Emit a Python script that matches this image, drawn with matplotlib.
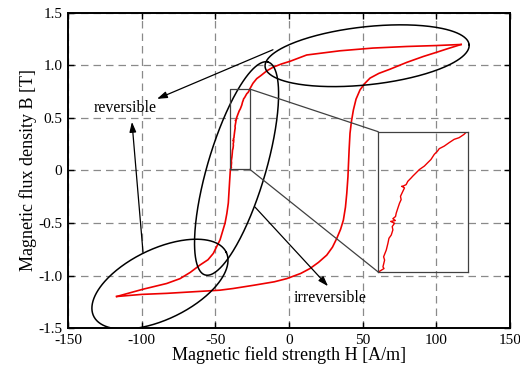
import numpy as np
import matplotlib
matplotlib.use("Agg")
import matplotlib.pyplot as plt

plt.rcParams['font.family'] = ['Liberation Serif', 'DejaVu Serif']
plt.rcParams['axes.unicode_minus'] = False

# ascending branch (from negative tip to positive tip)
h_up = [-117, -100, -83, -65, -47, -38, -24, -10, -1.6, 8, 14.3, 20, 25.6, 29.5, 32.4,
        35, 36.9, 38.3, 39.2, 40, 40.3, 40.8, 41.4, 42.4, 43.7, 45.5, 48.2, 51.5, 55,
        61, 68.6, 80, 91.2, 100, 107, 116.8]
b_up = [-1.2, -1.18, -1.17, -1.155, -1.14, -1.124, -1.093, -1.06, -1.03, -0.98, -0.933,
        -0.875, -0.806, -0.73, -0.647, -0.56, -0.472, -0.35, -0.218, -0.06, 0.04, 0.2,
        0.355, 0.47, 0.577, 0.68, 0.768, 0.83, 0.88, 0.925, 0.965, 1.03, 1.086, 1.125,
        1.157, 1.2]

# descending branch (from positive tip to negative tip), noisy part read from the zoom box
h_down = [116.8, 100, 79.9, 57, 34.6, 12, 0.7, -5, -10.6, -15, -19, -21.9, -24.5,
          -26.75, -27.10, -27.84, -28.58, -29.33, -30.07, -30.82, -31.07, -31.56, -32.06,
          -32.56, -33.05, -33.80, -34.29, -34.79, -35.04, -35.53, -35.78, -36.28, -36.45,
          -36.03, -36.28, -36.63, -36.53, -36.77, -37.02, -37.27, -37.37, -37.77, -37.4,
          -38.1, -37.52, -37.87, -37.77, -38.01, -38.36, -38.51, -38.76, -39.16, -39.01,
          -39.26, -39.1, -39.50, -39.8, -40.3, -41.2, -42.2, -43.4, -46.8, -51.4, -55,
          -60.4, -67, -74, -83, -98.9, -108, -117]
b_down = [1.2, 1.19, 1.181, 1.166, 1.14, 1.10, 1.04, 1.015, 0.985, 0.95, 0.905, 0.875,
          0.83, 0.773, 0.760, 0.742, 0.733, 0.715, 0.696, 0.682, 0.669, 0.651, 0.623,
          0.605, 0.587, 0.568, 0.550, 0.532, 0.522, 0.504, 0.486, 0.477, 0.477, 0.468,
          0.449, 0.422, 0.404, 0.385, 0.358, 0.330, 0.312, 0.300, 0.290, 0.285, 0.275,
          0.257, 0.239, 0.211, 0.193, 0.166, 0.129, 0.092, 0.074, 0.037, 0.028, 0.019,
          0.012, -0.1, -0.31, -0.41, -0.50, -0.66, -0.79, -0.85, -0.90, -0.97, -1.03,
          -1.076, -1.13, -1.165, -1.2]

x_ticks = [-150, -100, -50, 0, 50, 100, 150]
y_ticks = [-1.5, -1.0, -0.5, 0, 0.5, 1.0, 1.5]
y_tick_labels = ['-1.5', '-1.0', '-0.5', '0', '0.5', '1.0', '1.5']

# zoom region and where it is shown
zoom_h = (-40, -26.5)
zoom_b = (0.01, 0.775)
inset_h = (60.4, 121.5)
inset_b = (-0.965, 0.37)

fig = plt.figure(figsize=(5.2, 3.7), dpi=100)
ax = fig.add_axes([0.1308, 0.1135, 0.85, 0.8514])
ax.set_xlim(-150, 150)
ax.set_ylim(-1.5, 1.5)
ax.set_xticks(x_ticks)
ax.set_yticks(y_ticks)
ax.set_yticklabels(y_tick_labels)
ax.tick_params(direction='in', top=True, right=True, length=4, width=1, labelsize=11)
ax.tick_params(axis='x', pad=4)
ax.tick_params(axis='y', pad=4)
for s in ax.spines.values():
    s.set_linewidth(1.4)
ax.grid(True, color='#8a8a8a', linestyle=(0, (6, 4)), linewidth=0.9)
ax.set_xlabel('Magnetic field strength H [A/m]', fontsize=13, labelpad=0)
ax.set_ylabel('Magnetic flux density B [T]', fontsize=13, labelpad=1)

ax.plot(h_up, b_up, color='#ee0000', lw=1.2, zorder=3)
ax.plot(h_down, b_down, color='#ee0000', lw=1.2, zorder=3)

# ellipses are drawn in pixel units around a data centre
sx = 0.85 * 520 / 300.0
sy = 0.8514 * 370 / 3.0


def ellipse(c, a, b, ang):
    t = np.linspace(0, 2 * np.pi, 300)
    r = np.radians(ang)
    x = a * np.cos(t) * np.cos(r) - b * np.sin(t) * np.sin(r)
    y = a * np.cos(t) * np.sin(r) + b * np.sin(t) * np.cos(r)
    ax.plot(c[0] + x / sx, c[1] + y / sy, color='k', lw=1.1, zorder=4)


ellipse((53, 1.093), 102.6, 29, 6.2)
ellipse((-35.6, 0.019), 111, 29, 73.5)
ellipse((-87.6, -1.083), 73.6, 35.2, 25.7)

arrow = dict(arrowstyle='-|>,head_length=0.6,head_width=0.2', color='k', lw=0.9,
             shrinkA=0, shrinkB=0)
ax.annotate('', xy=(-89.6, 0.682), xytext=(-10.9, 1.15), arrowprops=arrow, zorder=5)
ax.annotate('', xy=(-106.6, 0.463), xytext=(-99.1, -0.778), arrowprops=arrow, zorder=5)
ax.annotate('', xy=(26.5, -1.102), xytext=(-23.1, -0.348), arrowprops=arrow, zorder=5)
ax.text(-111.3, 0.596, 'reversible', fontsize=11.5, ha='center', va='center')
ax.text(27.8, -1.217, 'irreversible', fontsize=11.5, ha='center', va='center')

# zoom box and connectors
box_c = '#404040'
ax.plot([zoom_h[0], zoom_h[1], zoom_h[1], zoom_h[0], zoom_h[0]],
        [zoom_b[0], zoom_b[0], zoom_b[1], zoom_b[1], zoom_b[0]], color=box_c, lw=0.9, zorder=4)
ax.plot([zoom_h[1], inset_h[0]], [zoom_b[1], inset_b[1]], color=box_c, lw=0.9, zorder=4)
ax.plot([zoom_h[1], inset_h[0]], [zoom_b[0], inset_b[0]], color=box_c, lw=0.9, zorder=4)

ins = ax.inset_axes([inset_h[0], inset_b[0], inset_h[1] - inset_h[0], inset_b[1] - inset_b[0]],
                    transform=ax.transData)
ins.patch.set_alpha(0)
ins.plot(h_down, b_down, color='#ee0000', lw=1.0)
ins.set_xlim(*zoom_h)
ins.set_ylim(*zoom_b)
ins.set_xticks([])
ins.set_yticks([])
for s in ins.spines.values():
    s.set_color(box_c)
    s.set_linewidth(0.9)

fig.savefig('out.png', dpi=100)
